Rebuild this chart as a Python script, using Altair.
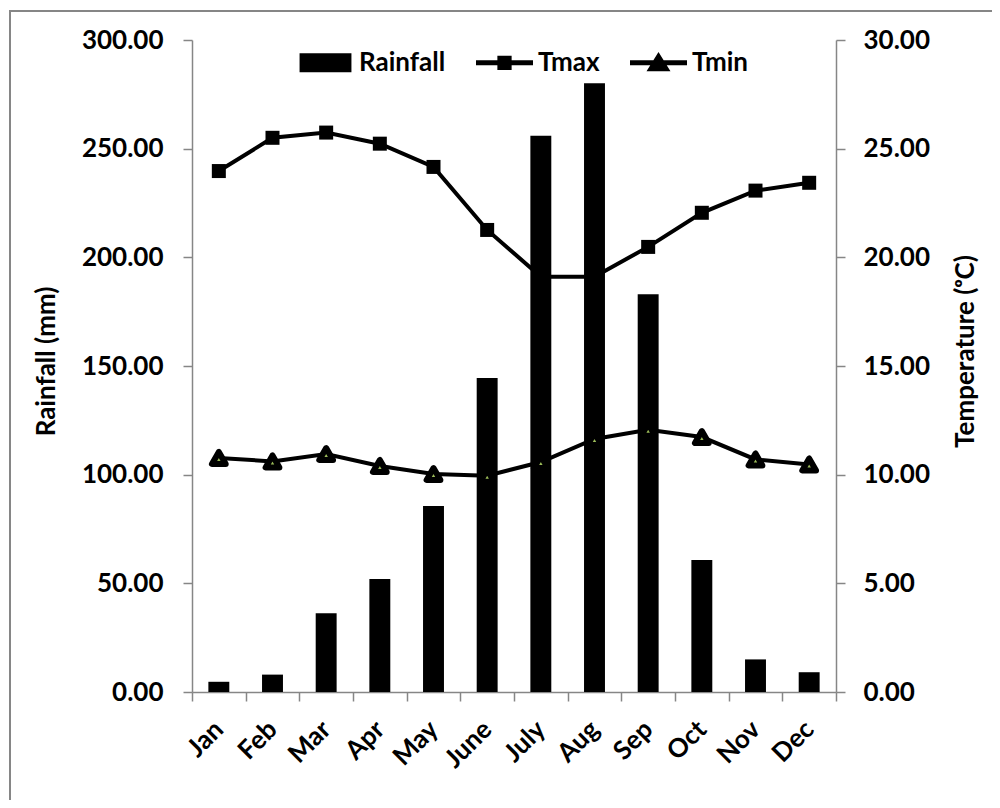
import altair as alt
import pandas as pd

months = ["Jan", "Feb", "Mar", "Apr", "May", "June", "July", "Aug", "Sep", "Oct", "Nov", "Dec"]
rainfall = [4.7, 8.0, 36.2, 52.0, 85.6, 144.5, 256.0, 280.1, 183.0, 60.7, 15.0, 9.1]
tmax = [23.97, 25.5, 25.74, 25.23, 24.16, 21.26, 19.11, 19.11, 20.48, 22.05, 23.07, 23.43]
tmin = [10.77, 10.61, 10.95, 10.4, 10.03, 9.95, 10.58, 11.64, 12.07, 11.73, 10.7, 10.47]
series_names = ["Rainfall", "Tmax", "Tmin"]
rain_ticks = [0, 50, 100, 150, 200, 250, 300]
temp_ticks = [0, 5, 10, 15, 20, 25, 30]

rain_df = pd.DataFrame({"month": months, "rain": rainfall})
temp_df = pd.concat([
    pd.DataFrame({"month": months, "series": "Tmax", "temp": tmax}),
    pd.DataFrame({"month": months, "series": "Tmin", "temp": tmin}),
])
legend_df = pd.DataFrame({"series": series_names})

FONT = "Lato"
GRAY = "#868686"

legend_paths = [
    "M-0.91,-0.33H0.91V0.33H-0.91Z",
    "M-1,-0.09H1V0.09H-1Z M-0.25,-0.25H0.25V0.25H-0.25Z",
    "M-1,-0.09H1V0.09H-1Z M0,-0.38L0.42,0.3L-0.42,0.3Z",
]

x_enc = alt.X(
    "month:N",
    sort=months,
    scale=alt.Scale(domain=months, paddingInner=0, paddingOuter=0),
    axis=alt.Axis(
        title=None, labelAngle=315, labelAlign="right", labelBaseline="middle",
        labelPadding=24, tickBand="extent", tickSize=9, tickColor=GRAY, tickWidth=1.5,
        domainColor=GRAY, domainWidth=1.5, labelFont=FONT, labelFontSize=26,
        labelFontWeight="bold", labelColor="black", grid=False,
    ),
)

bars = alt.Chart(rain_df).mark_bar(color="black", width=alt.RelativeBandSize(0.39)).encode(
    x=x_enc,
    y=alt.Y(
        "rain:Q",
        scale=alt.Scale(domain=[0, 300], nice=False, zero=True),
        axis=alt.Axis(
            values=rain_ticks, format=".2f", title="Rainfall (mm)", grid=False,
            tickSize=9, tickColor=GRAY, tickWidth=1.5, domainColor=GRAY, domainWidth=1.5,
            labelPadding=20, labelFont=FONT, labelFontSize=26, labelFontWeight="bold",
            labelColor="black", titleFont=FONT, titleFontSize=26, titleFontWeight="bold",
            titleColor="black", titleAngle=270, titleX=-146, titleY=321,
            titleAlign="center", titleBaseline="middle",
        ),
    ),
)

y_temp = alt.Y(
    "temp:Q",
    scale=alt.Scale(domain=[0, 30], nice=False, zero=True),
    axis=alt.Axis(
        orient="right", values=temp_ticks, format=".2f", title="Temperature (ᵒC)", grid=False,
        tickSize=9, tickColor=GRAY, tickWidth=1.5, domainColor=GRAY, domainWidth=1.5,
        labelPadding=18, labelFont=FONT, labelFontSize=26, labelFontWeight="bold",
        labelColor="black", titleFont=FONT, titleFontSize=26, titleFontWeight="bold",
        titleColor="black", titleAngle=270, titleX=129, titleY=311,
        titleAlign="center", titleBaseline="middle",
    ),
)

lines = alt.Chart(temp_df).mark_line(color="black", strokeWidth=4).encode(
    x=x_enc, y=y_temp, detail="series:N"
)
squares = alt.Chart(temp_df).transform_filter(alt.datum.series == "Tmax").mark_point(
    shape="square", filled=True, color="black", size=196, opacity=1
).encode(x=x_enc, y=y_temp)
triangles = alt.Chart(temp_df).transform_filter(alt.datum.series == "Tmin").mark_point(
    shape="triangle-up", filled=True, fill="#9bbb59", stroke="black", strokeWidth=6,
    strokeJoin="round", size=190, opacity=1
).encode(x=x_enc, y=y_temp)

legend_layer = alt.Chart(legend_df).transform_filter("false").mark_point(
    filled=True, color="black", opacity=1
).encode(
    shape=alt.Shape(
        "series:N",
        scale=alt.Scale(domain=series_names, range=legend_paths),
        legend=alt.Legend(
            title=None, orient="none", legendX=105, legendY=-6, direction="horizontal",
            symbolSize=3249, labelFont=FONT, labelFontSize=26, labelFontWeight="bold",
            labelColor="black", labelOffset=5, columnPadding=30, padding=0,
            symbolStrokeWidth=0, symbolFillColor="black",
        ),
    )
)

temp_layer = alt.layer(lines, squares, triangles, legend_layer)

border_top = alt.Chart(legend_df).mark_rule(color=GRAY, strokeWidth=2).encode(
    x=alt.value(-182), x2=alt.value(830), y=alt.value(-29)
)
border_left = alt.Chart(legend_df).mark_rule(color=GRAY, strokeWidth=2).encode(
    x=alt.value(-182), y=alt.value(-30), y2=alt.value(790)
)

chart = alt.layer(border_top, border_left, bars, temp_layer).resolve_scale(y="independent").properties(
    width=644, height=652,
    autosize=alt.AutoSizeParams(type="none"),
    padding={"left": 184, "top": 32, "right": 156, "bottom": 108},
    background="white",
).configure_view(strokeWidth=0)

chart.save("out.html", embed_options={"renderer": "svg", "actions": False})
